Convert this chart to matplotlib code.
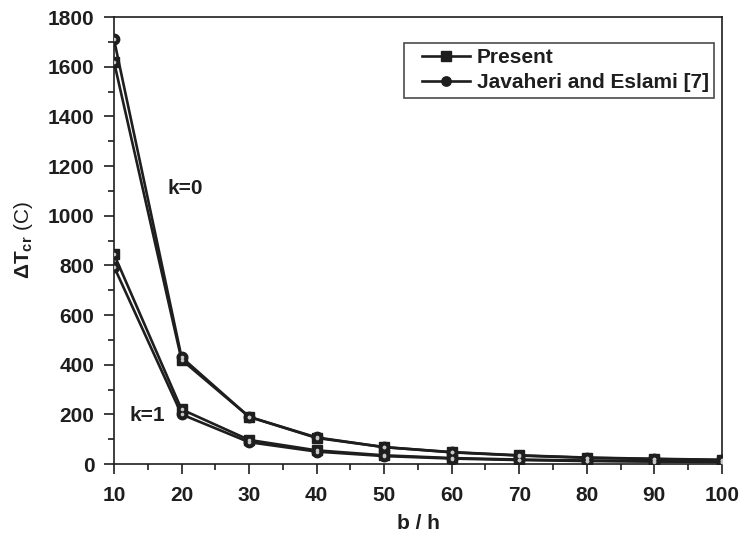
import matplotlib
matplotlib.use("Agg")
import matplotlib.pyplot as plt
from matplotlib.lines import Line2D
from matplotlib.legend_handler import HandlerLine2D
from matplotlib.ticker import MultipleLocator

plt.rcParams['font.family'] = ['Liberation Sans', 'DejaVu Sans']
plt.rcParams['mathtext.fontset'] = 'custom'
plt.rcParams['mathtext.rm'] = 'Liberation Sans'
plt.rcParams['mathtext.bf'] = 'Liberation Sans:bold'
plt.rcParams['mathtext.it'] = 'Liberation Sans:italic'

# b/h ratios
b_h = [10, 20, 30, 40, 50, 60, 70, 80, 90, 100]

# Critical temperature difference, k = 0
present_k0 = [1620, 420, 190, 105, 68, 48, 35, 26, 21, 17]
javaheri_k0 = [1710, 430, 190, 107, 68, 47, 34, 25, 20, 16]

# Critical temperature difference, k = 1
present_k1 = [845, 220, 97, 55, 35, 24, 18, 14, 11, 9]
javaheri_k1 = [795, 200, 88, 50, 32, 22, 16, 12, 10, 8]

ink = '#1e1e1e'
fs = 15

fig = plt.figure(figsize=(7.45, 5.4), dpi=100)
ax = fig.add_axes([0.153, 0.1407, 0.816, 0.8278])


def draw(y, marker, label):
    ax.plot(b_h, y, color=ink, lw=1.9, marker=marker, ms=7.5,
            mfc=ink, mec=ink, label=label, zorder=3)
    ax.plot(b_h, y, ls='none', marker='o', ms=2.6, mfc='#c8c8c8',
            mec='none', zorder=4)


draw(present_k0, 's', 'Present')
draw(javaheri_k0, 'o', 'Javaheri and Eslami [7]')
draw(present_k1, 's', None)
draw(javaheri_k1, 'o', None)

ax.set_xlim(10, 100)
ax.set_ylim(0, 1800)
ax.xaxis.set_major_locator(MultipleLocator(10))
ax.xaxis.set_minor_locator(MultipleLocator(5))
ax.yaxis.set_major_locator(MultipleLocator(200))
ax.yaxis.set_minor_locator(MultipleLocator(100))
ax.tick_params(which='both', direction='out', top=False, right=False,
               color=ink, width=1.2)
ax.tick_params(which='major', length=7, labelsize=fs)
ax.tick_params(axis='x', which='major', pad=9)
ax.tick_params(axis='y', which='major', pad=7)
ax.tick_params(which='minor', length=4.3)
for lab in ax.get_xticklabels() + ax.get_yticklabels():
    lab.set_fontweight('bold')
    lab.set_color(ink)
for s in ax.spines.values():
    s.set_color(ink)
    s.set_linewidth(1.2)

ax.set_xlabel('b / h', fontsize=fs, fontweight='bold', color=ink, labelpad=6)
ax.set_ylabel(r'$\mathbf{\Delta T_{cr}}$ (C)', fontsize=fs, color=ink,
              labelpad=9)

ax.text(20.5, 1110, 'k=0', fontsize=fs, fontweight='bold', color=ink,
        ha='center', va='center')
ax.text(15.0, 197, 'k=1', fontsize=fs, fontweight='bold', color=ink,
        ha='center', va='center')

leg = ax.legend(loc='upper right', bbox_to_anchor=(0.987, 0.942),
                frameon=True, fancybox=False, handlelength=2.9,
                handletextpad=0.34, borderpad=0.25, labelspacing=0.3,
                borderaxespad=0.0, markerscale=0.9,
                handler_map={Line2D: HandlerLine2D(xpad=0.62)},
                prop={'weight': 'bold', 'size': fs})
leg.get_frame().set_edgecolor(ink)
leg.get_frame().set_linewidth(1.2)
for t in leg.get_texts():
    t.set_color(ink)

fig.savefig('out.png', dpi=100)
